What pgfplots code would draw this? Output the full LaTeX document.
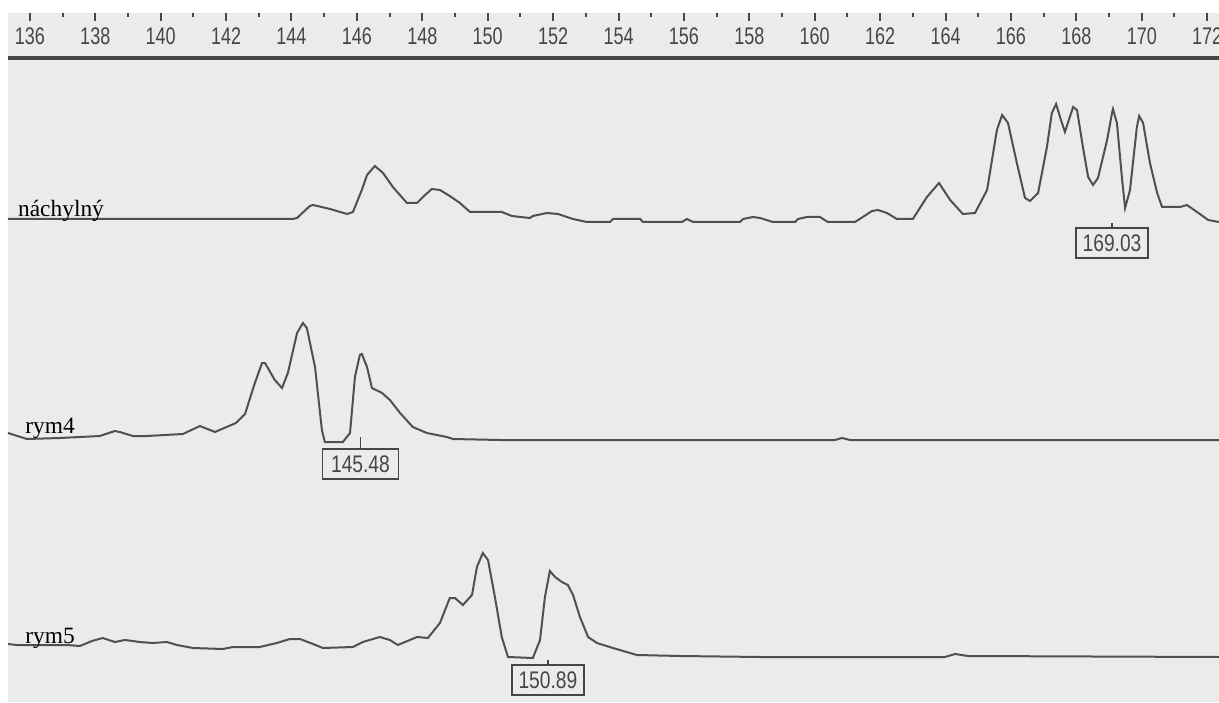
\documentclass[border=0pt]{standalone}
\usepackage{pgfplots}
\pgfplotsset{compat=1.18}
\usepackage{fontspec}
\setmainfont{Liberation Serif}
\newfontfamily\rulerfont[FakeStretch=0.75]{Liberation Sans}
\newfontfamily\boxfont[FakeStretch=0.8]{Liberation Sans}
\definecolor{screen}{RGB}{236,235,235}
\definecolor{trace}{RGB}{80,80,80}
\definecolor{ruler}{RGB}{70,70,70}

\begin{document}
\begin{tikzpicture}
  \fill[white] (-4pt,0) rectangle (605.5pt,351pt);
  \begin{axis}[
      scale only axis,
      width=605.5pt,
      height=344.5pt,
      xmin=135.33, xmax=172.36,
      ymin=0, ymax=689,
      axis background/.style={fill=screen},
      axis line style={draw=none},
      ytick=\empty,
      xtick={136,138,...,172},
      minor xtick={137,139,...,171},
      xtick pos=right,
      xticklabel pos=right,
      tick align=inside,
      major tick length=4pt,
      minor tick length=2.2pt,
      every tick/.style={ruler, line width=1pt},
      /pgf/number format/assume math mode=true,
      xticklabel style={font=\rulerfont\fontsize{12}{12}\selectfont, text=ruler,
          anchor=center, yshift=-11.5pt},
      clip=false,
    ]
    % ruler line under the size scale
    \draw[ruler, line width=1.7pt] (rel axis cs:0,0) ++(0,0) (axis cs:135.33,644) -- (axis cs:172.36,644);

    % náchylný
    \addplot[trace, line width=1pt, sharp plot] coordinates {
        (135.33,483) (144.04,483) (144.17,484) (144.56,496) (144.66,497)
        (145.18,493) (145.70,488) (145.88,490) (146.15,512) (146.31,527)
        (146.55,536) (146.80,529) (147.10,515) (147.53,499) (147.84,499)
        (148.02,505) (148.29,513) (148.54,512) (148.84,506) (149.15,499)
        (149.46,490) (149.82,490) (150.43,490) (150.74,486) (151.29,484)
        (151.38,486) (151.81,489) (152.15,488) (152.61,483) (153.03,480)
        (153.74,480) (153.83,483) (154.66,483) (154.75,480) (155.94,480)
        (156.09,483) (156.28,480) (157.71,480) (157.81,483) (158.11,485)
        (158.33,484) (158.72,480) (159.40,480) (159.49,483) (159.76,485)
        (160.16,485) (160.40,480) (161.23,480) (161.47,485) (161.75,491)
        (161.93,492) (162.21,489) (162.51,483) (163.00,483) (163.43,505)
        (163.80,519) (164.14,502) (164.53,488) (164.90,489) (165.27,512)
        (165.57,572) (165.73,587) (165.91,579) (166.18,539) (166.43,504)
        (166.58,501) (166.83,509) (167.10,555) (167.25,589) (167.38,598)
        (167.50,585) (167.65,570) (167.90,595) (168.02,592) (168.20,555)
        (168.36,525) (168.51,517) (168.66,524) (168.94,562) (169.09,589)
        (169.12,593) (169.24,579) (169.40,522) (169.49,494) (169.64,512)
        (169.85,575) (169.92,586) (170.04,579) (170.25,539) (170.47,509)
        (170.62,495) (171.17,495) (171.38,497) (171.69,490) (172.03,482)
        (172.36,480)};

    % rym4
    \addplot[trace, line width=1pt, sharp plot] coordinates {
        (135.33,269) (135.91,263) (136.92,264) (138.14,266) (138.60,271)
        (138.75,270) (139.15,266) (139.58,266) (140.68,268) (141.20,276)
        (141.66,270) (142.30,279) (142.58,288) (142.88,319) (143.10,339)
        (143.19,339) (143.49,322) (143.71,314) (143.89,329) (144.17,369)
        (144.35,379) (144.47,374) (144.72,335) (144.93,272) (145.02,260)
        (145.57,260) (145.79,269) (145.94,325) (146.09,347) (146.15,348)
        (146.31,335) (146.46,314) (146.77,309) (147.01,302) (147.32,289)
        (147.71,275) (148.14,269) (148.75,265) (148.94,263) (150.37,262)
        (153.43,262) (160.62,262) (160.83,264) (161.08,262) (172.36,262)};

    % rym5
    \addplot[trace, line width=1pt, sharp plot] coordinates {
        (135.33,58) (135.60,57) (137.13,57) (137.53,56) (137.90,61)
        (138.23,64) (138.60,60) (138.91,62) (139.36,60) (139.76,59)
        (140.19,60) (140.50,57) (140.99,54) (141.90,53) (142.21,55)
        (143.03,55) (143.55,59) (143.95,63) (144.26,63) (144.66,58)
        (144.96,54) (145.88,55) (146.18,60) (146.70,65) (147.01,62)
        (147.25,57) (147.84,65) (148.17,64) (148.54,79) (148.84,104)
        (149.00,104) (149.24,97) (149.52,107) (149.67,135) (149.85,149)
        (150.01,142) (150.22,105) (150.43,65) (150.62,45) (151.38,44)
        (151.60,62) (151.75,105) (151.90,131) (152.06,125) (152.27,120)
        (152.45,117) (152.61,107) (152.82,85) (153.07,65) (153.34,59)
        (153.83,54) (154.56,47) (155.88,46) (158.33,45) (163.98,45)
        (164.29,48) (164.69,46) (172.36,45)};

    % lane names
    \node[anchor=base west, font=\fontsize{11.7}{12}\selectfont, inner sep=0pt]
      at (axis cs:135.63,485) {náchylný};
    \node[anchor=base west, font=\fontsize{11.7}{12}\selectfont, inner sep=0pt]
      at (axis cs:135.85,269) {rym4};
    \node[anchor=base west, font=\fontsize{11.7}{12}\selectfont, inner sep=0pt]
      at (axis cs:135.85,59) {rym5};

    % peak size boxes
    \draw[ruler, line width=0.8pt] (axis cs:169.09,479) -- (axis cs:169.09,474);
    \node[draw=ruler, line width=0.8pt, text=ruler, minimum width=36pt, minimum height=15pt,
      inner sep=0pt, font=\boxfont\fontsize{12}{12}\selectfont]
      at (axis cs:169.09,459) {169.03};
    \draw[ruler, line width=0.8pt] (axis cs:146.11,265) -- (axis cs:146.11,253);
    \node[draw=ruler, line width=0.8pt, text=ruler, minimum width=38pt, minimum height=15pt,
      inner sep=0pt, font=\boxfont\fontsize{12}{12}\selectfont]
      at (axis cs:146.11,238) {145.48};
    \draw[ruler, line width=0.8pt] (axis cs:151.84,42) -- (axis cs:151.84,37);
    \node[draw=ruler, line width=0.8pt, text=ruler, minimum width=36pt, minimum height=15pt,
      inner sep=0pt, font=\boxfont\fontsize{12}{12}\selectfont]
      at (axis cs:151.84,22) {150.89};
  \end{axis}
  \pgfresetboundingbox
  \useasboundingbox (-4pt,0) rectangle (605.5pt,351pt);
\end{tikzpicture}
\end{document}
